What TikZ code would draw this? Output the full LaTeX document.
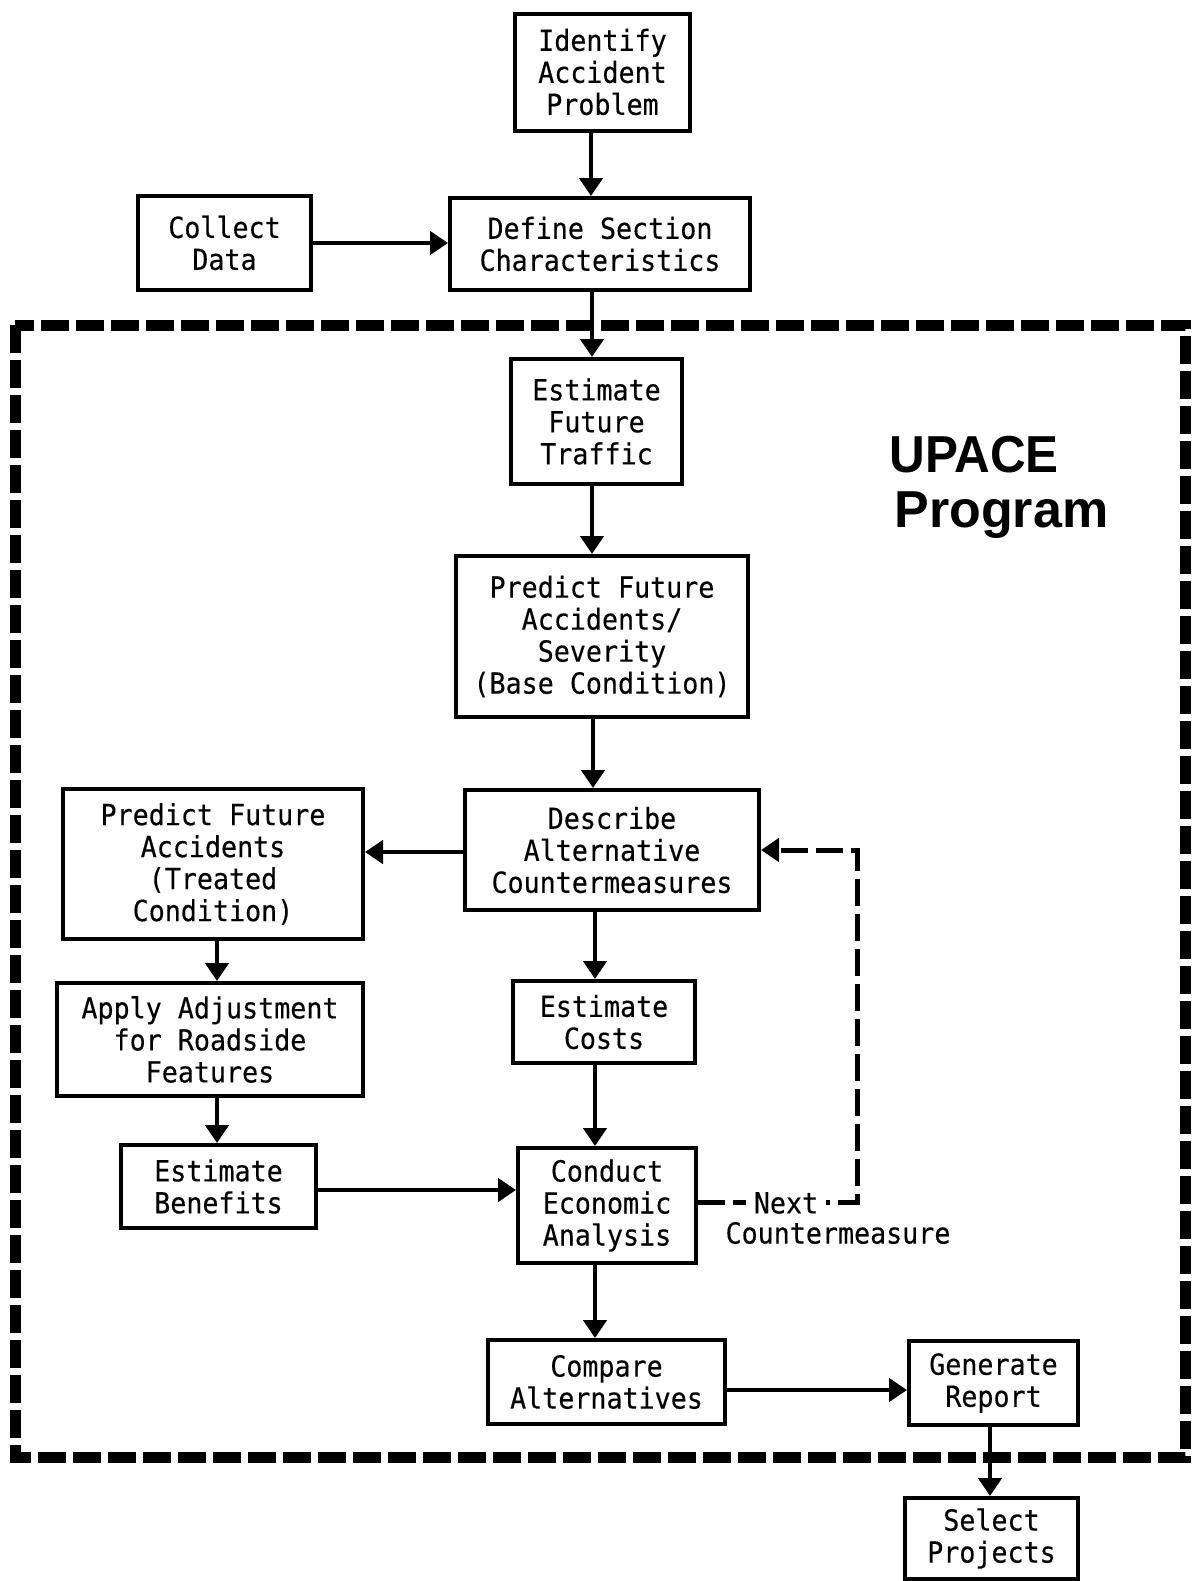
\documentclass[tikz,border=0pt]{standalone}
\usepackage{fontspec}
\usetikzlibrary{arrows.meta}
\newfontfamily\boxfont{DejaVu Sans Mono}[FakeStretch=0.92,FakeBold=0.3]
\newfontfamily\titlefont{Liberation Sans}[FakeStretch=0.95]
\newfontfamily\titlefontb{Liberation Sans}
\begin{document}
\begin{tikzpicture}[x=0.5pt,y=-0.5pt,
  box/.style={draw, line width=2pt, align=center, inner sep=0pt,
    font=\boxfont\fontsize{14.5}{16}\selectfont},
  arr/.style={line width=2.3pt, -{Triangle[length=9pt,width=11.5pt]}},
  border/.style={line width=5.5pt, dash pattern=on 14pt off 3.5pt},
  fb/.style={line width=2.5pt, dash pattern=on 13.5pt off 4pt, -{Triangle[length=9pt,width=11.5pt]}},
  lbl/.style={font=\boxfont\fontsize{14.5}{16}\selectfont, inner sep=1pt}
]
\useasboundingbox (0,0) rectangle (1191,1581);
\fill[white] (0,0) rectangle (1191,1581);

% dashed program border
\draw[border] (15,325) rectangle (1185,1457);

% nodes
\node[box, minimum width=175*0.5pt, minimum height=117*0.5pt] (ident) at (602.5,72) {Identify\\Accident\\Problem};
\node[box, minimum width=173*0.5pt, minimum height=94*0.5pt] (collect) at (224.5,243) {Collect\\Data};
\node[box, minimum width=300*0.5pt, minimum height=92*0.5pt] (define) at (600,244) {Define Section\\Characteristics};
\node[box, minimum width=171*0.5pt, minimum height=125*0.5pt] (traffic) at (596.5,421.5) {Estimate\\Future\\Traffic};
\node[box, minimum width=292*0.5pt, minimum height=161*0.5pt] (predict) at (602,636.5) {Predict Future\\Accidents/\\Severity\\(Base Condition)};
\node[box, minimum width=294*0.5pt, minimum height=120*0.5pt] (describe) at (612,850) {Describe\\Alternative\\Countermeasures};
\node[box, minimum width=300*0.5pt, minimum height=150*0.5pt] (treated) at (213,864) {Predict Future\\Accidents\\(Treated\\Condition)};
\node[box, minimum width=306*0.5pt, minimum height=113*0.5pt] (apply) at (210,1039.5) {Apply Adjustment\\for Roadside\\Features};
\node[box, minimum width=195*0.5pt, minimum height=83*0.5pt] (benefits) at (218.5,1186.5) {Estimate\\Benefits};
\node[box, minimum width=182*0.5pt, minimum height=82*0.5pt] (costs) at (604,1022) {Estimate\\Costs};
\node[box, minimum width=178*0.5pt, minimum height=115*0.5pt] (conduct) at (607,1205.5) {Conduct\\Economic\\Analysis};
\node[box, minimum width=237*0.5pt, minimum height=84*0.5pt] (compare) at (606.5,1382) {Compare\\Alternatives};
\node[box, minimum width=169*0.5pt, minimum height=84*0.5pt] (generate) at (993.5,1383) {Generate\\Report};
\node[box, minimum width=173*0.5pt, minimum height=81*0.5pt] (select) at (991.5,1538.5) {Select\\Projects};

% title
\node[font=\titlefont\bfseries\fontsize{26}{30}\selectfont, anchor=base west, inner sep=0pt] (upace) at (889,472) {UPACE};
\node[font=\titlefontb\bfseries\fontsize{26}{30}\selectfont, anchor=base west, inner sep=0pt] (program) at (894,527) {Program};

% guide coordinates
\coordinate (x591) at (591,0);
\coordinate (x592) at (592,0);
\coordinate (x593) at (593,0);
\coordinate (x595) at (595,0);
\coordinate (x217) at (217,0);
\coordinate (x990) at (990,0);
\coordinate (y243) at (0,243);
\coordinate (y852) at (0,852);
\coordinate (y1190) at (0,1190);
\coordinate (y1390) at (0,1390);

% arrows
\draw[arr] (ident.south -| x591) -- (define.north -| x591);
\draw[arr] (collect.east |- y243) -- (define.west |- y243);
\draw[arr] (define.south -| x592) -- (traffic.north -| x592);
\draw[arr] (traffic.south -| x592) -- (predict.north -| x592);
\draw[arr] (predict.south -| x593) -- (describe.north -| x593);
\draw[arr] (describe.west |- y852) -- (treated.east |- y852);
\draw[arr] (describe.south -| x595) -- (costs.north -| x595);
\draw[arr] (treated.south -| x217) -- (apply.north -| x217);
\draw[arr] (apply.south -| x217) -- (benefits.north -| x217);
\draw[arr] (benefits.east |- y1190) -- (conduct.west |- y1190);
\draw[arr] (costs.south -| x595) -- (conduct.north -| x595);
\draw[arr] (conduct.south -| x595) -- (compare.north -| x595);
\draw[arr] (compare.east |- y1390) -- (generate.west |- y1390);
\draw[arr] (generate.south -| x990) -- (select.north -| x990);

% feedback loop
\coordinate (fb1) at (857,1202);
\coordinate (fb2) at (857,850);
\draw[fb] (conduct.east |- fb1) -- (fb1) -- (fb2) -- (describe.east |- fb2);
\node[lbl, fill=white, inner xsep=4pt] (next) at (786,1203) {Next};
\node[lbl] (cm) at (838,1233) {Countermeasure};
\end{tikzpicture}
\end{document}
